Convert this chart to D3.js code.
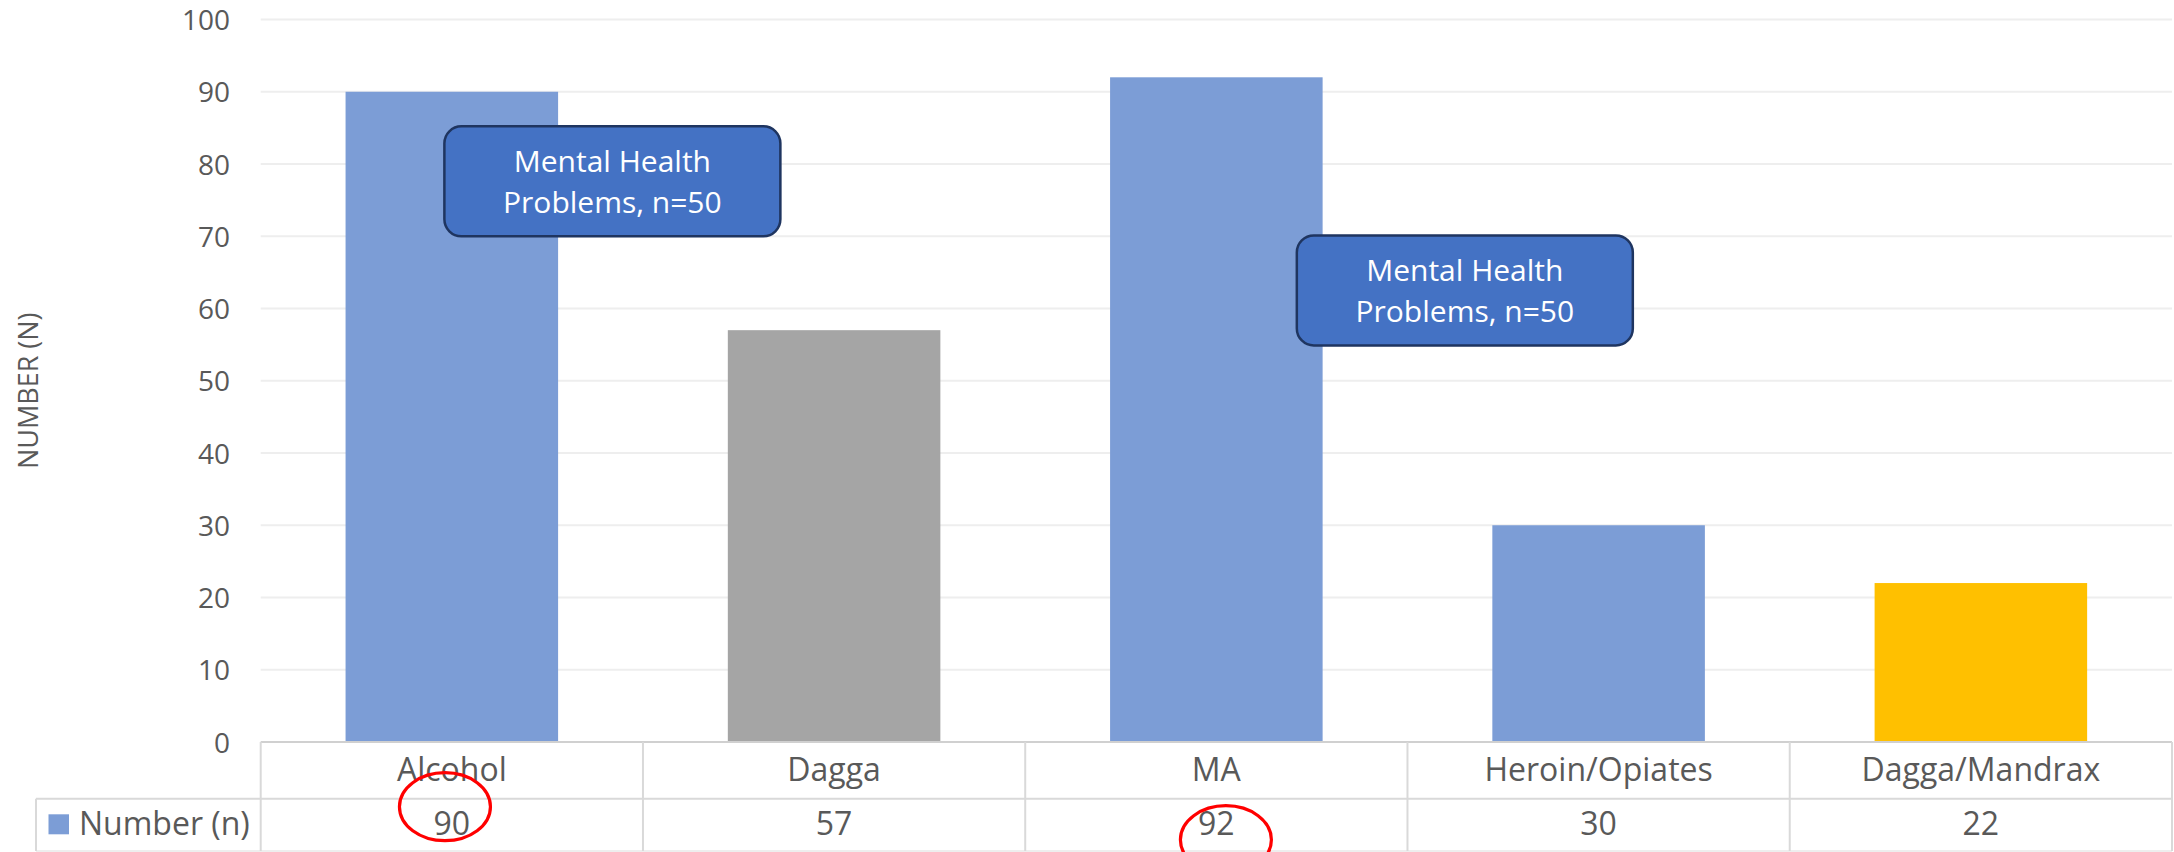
<!DOCTYPE html>
<html>
<head>
<meta charset="utf-8">
<script src="https://cdn.jsdelivr.net/npm/d3@7/dist/d3.min.js"></script>
<style>
  html, body { margin: 0; padding: 0; background: #fff; }
  svg { display: block; font-family: "Open Sans", "Noto Sans", sans-serif; }
</style>
</head>
<body>
<svg id="chart" width="2174" height="852"></svg>
<script>
// ---- data ----
const categories = ["Alcohol", "Dagga", "MA", "Heroin/Opiates", "Dagga/Mandrax"];
const values = [90, 57, 92, 30, 22];
const barColors = ["#7C9DD6", "#A5A5A5", "#7C9DD6", "#7C9DD6", "#FFC000"];
const yTicks = [0, 10, 20, 30, 40, 50, 60, 70, 80, 90, 100];
const seriesName = "Number (n)";
const yAxisTitle = "NUMBER (N)";
const annotationText = ["Mental Health", "Problems, n=50"];
// annotation boxes: anchored to a category (offset in band steps) and a y value
const annotationCats = ["Alcohol", "MA"];
const annotationOffsets = [0.42, 0.65];
const annotationValues = [77.6, 62.5];
// red circles highlighting table values
const highlightCats = ["Alcohol", "MA"];
const highlightDx = [-0.018, 0.025];
const highlightDy = [8, 41];

// ---- layout ----
const W = 2174, H = 852;
const plotLeft = 260.7, plotRight = 2172;
const yBottom = 742, yTop = 19.5;
const legendLeft = 36;
const row1Bottom = 798.7, row2Bottom = 851;

const svg = d3.select("#chart");

const x = d3.scaleBand().domain(categories).range([plotLeft, plotRight]).paddingInner(0.444).paddingOuter(0.222);
const xCat = d3.scaleBand().domain(categories).range([plotLeft, plotRight]).padding(0);
const y = d3.scaleLinear().domain([0, 100]).range([yBottom, yTop]);

// gridlines
svg.append("g").selectAll("line").data(yTicks.filter(d => d > 0)).join("line")
  .attr("x1", plotLeft).attr("x2", plotRight)
  .attr("y1", d => y(d)).attr("y2", d => y(d))
  .attr("stroke", "#EEEEEE").attr("stroke-width", 2);

// y axis labels via d3 axis
const yAxis = d3.axisLeft(y).tickValues(yTicks).tickSize(0).tickPadding(0);
const gy = svg.append("g").attr("transform", `translate(${230},0)`).call(yAxis);
gy.select(".domain").remove();
gy.selectAll("text")
  .attr("fill", "#595959")
  .style("font-family", '"Open Sans", sans-serif')
  .style("font-size", "28px")
  .attr("dy", "0.36em");

// y axis title
svg.append("text")
  .attr("transform", `translate(${38},${(yTop + yBottom) / 2 + 10}) rotate(-90)`)
  .attr("text-anchor", "middle")
  .attr("fill", "#595959")
  .style("font-size", "27px")
  .text(yAxisTitle);

// bars
svg.append("g").selectAll("rect").data(categories).join("rect")
  .attr("x", d => x(d))
  .attr("width", x.bandwidth())
  .attr("y", (d, i) => y(values[i]))
  .attr("height", (d, i) => y(0) - y(values[i]))
  .attr("fill", (d, i) => barColors[i]);

// data table
const tbl = svg.append("g").attr("stroke", "#D9D9D9").attr("stroke-width", 2);
// axis/top line
tbl.append("line").attr("x1", plotLeft).attr("x2", plotRight).attr("y1", yBottom).attr("y2", yBottom).attr("stroke", "#D0D0D0");
tbl.append("line").attr("x1", legendLeft).attr("x2", plotRight).attr("y1", row1Bottom).attr("y2", row1Bottom);
tbl.append("line").attr("x1", legendLeft).attr("x2", plotRight).attr("y1", row2Bottom).attr("y2", row2Bottom).attr("stroke", "#EEEEEE");
tbl.append("line").attr("x1", legendLeft).attr("x2", legendLeft).attr("y1", row1Bottom).attr("y2", row2Bottom);
tbl.selectAll("line.v").data(categories.concat(["__end"])).join("line").attr("class", "v")
  .attr("x1", (d, i) => i < categories.length ? xCat(d) : plotRight)
  .attr("x2", (d, i) => i < categories.length ? xCat(d) : plotRight)
  .attr("y1", yBottom).attr("y2", row2Bottom);

// category labels
svg.append("g").selectAll("text").data(categories).join("text")
  .attr("x", d => xCat(d) + xCat.bandwidth() / 2)
  .attr("y", 781)
  .attr("text-anchor", "middle")
  .attr("fill", "#595959")
  .style("font-size", "32px")
  .text(d => d);

// values row
svg.append("g").selectAll("text").data(categories).join("text")
  .attr("x", d => xCat(d) + xCat.bandwidth() / 2)
  .attr("y", 835)
  .attr("text-anchor", "middle")
  .attr("fill", "#595959")
  .style("font-size", "32px")
  .text((d, i) => values[i]);

// legend key
svg.append("rect").attr("x", 48.5).attr("y", 814.3).attr("width", 20.5).attr("height", 20)
  .attr("fill", barColors[0]);
svg.append("text").attr("x", 79).attr("y", 834.5)
  .attr("fill", "#595959").style("font-size", "32px").text(seriesName);

// annotation boxes
const boxW = 336, boxH = 110;
annotationCats.forEach((c, i) => {
  const cx = xCat(c) + xCat.bandwidth() / 2 + annotationOffsets[i] * xCat.step();
  const cy = y(annotationValues[i]);
  const g = svg.append("g");
  g.append("rect")
    .attr("x", cx - boxW / 2).attr("y", cy - boxH / 2)
    .attr("width", boxW).attr("height", boxH)
    .attr("rx", 17).attr("ry", 17)
    .attr("fill", "#4472C4").attr("stroke", "#1F3560").attr("stroke-width", 2.5);
  const t = g.append("text").attr("text-anchor", "middle").attr("fill", "#fff").style("font-size", "30px");
  t.append("tspan").attr("x", cx).attr("y", cy - 9).text(annotationText[0]);
  t.append("tspan").attr("x", cx).attr("y", cy + 31.5).text(annotationText[1]);
});

// red highlight ellipses
highlightCats.forEach((c, i) => {
  svg.append("ellipse")
    .attr("cx", xCat(c) + xCat.bandwidth() / 2 + highlightDx[i] * xCat.step())
    .attr("cy", row1Bottom + highlightDy[i])
    .attr("rx", 45.5).attr("ry", 34)
    .attr("fill", "none").attr("stroke", "#FF0000").attr("stroke-width", 3.2);
});
</script>
</body>
</html>
